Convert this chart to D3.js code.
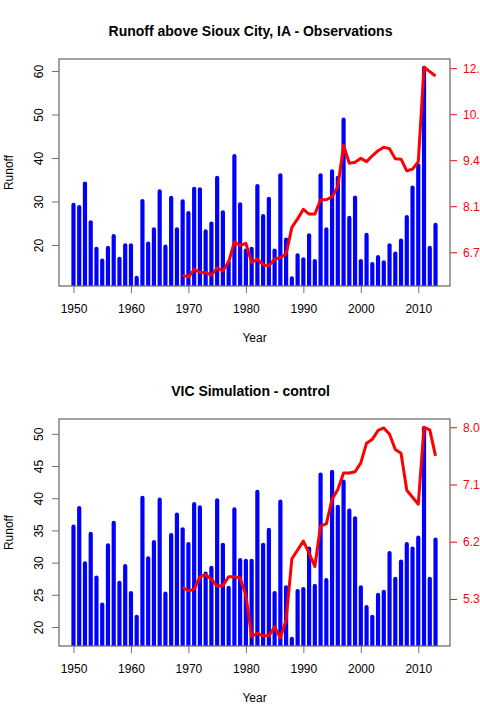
<!DOCTYPE html>
<html>
<head>
<meta charset="utf-8">
<script src="https://cdn.jsdelivr.net/npm/d3@7"></script>
<style>
  body { margin: 0; background: #fff; }
  svg { display: block; font-family: "Liberation Sans", Arial, Helvetica, sans-serif; }
</style>
</head>
<body>
<svg width="480" height="720"></svg>
<script>
// Water years shared by both panels
const YEARS = [
  1950, 1951, 1952, 1953, 1954, 1955, 1956, 1957, 1958, 1959,
  1960, 1961, 1962, 1963, 1964, 1965, 1966, 1967, 1968, 1969,
  1970, 1971, 1972, 1973, 1974, 1975, 1976, 1977, 1978, 1979,
  1980, 1981, 1982, 1983, 1984, 1985, 1986, 1987, 1988, 1989,
  1990, 1991, 1992, 1993, 1994, 1995, 1996, 1997, 1998, 1999,
  2000, 2001, 2002, 2003, 2004, 2005, 2006, 2007, 2008, 2009,
  2010, 2011, 2012, 2013,
];

// Red line only starts in 1969
const LINE_YEARS = YEARS.filter((y) => y >= 1969);

const OBS_RUNOFF = [
  29.7, 29.2, 34.6, 25.7, 19.6, 16.9, 19.8, 22.5, 17.3, 20.4,
  20.4, 12.9, 30.6, 20.8, 24.1, 32.8, 20.1, 31.3, 24.1, 30.5,
  27.8, 33.4, 33.3, 23.6, 25.4, 35.9, 28.0, 16.5, 40.9, 29.8,
  19.2, 19.6, 34.0, 27.1, 31.1, 19.2, 36.5, 21.7, 12.8, 18.1,
  17.2, 22.7, 16.8, 36.5, 24.1, 37.4, 35.9, 49.3, 26.7, 31.4,
  16.8, 22.8, 16.1, 17.7, 16.5, 20.4, 18.5, 21.5, 26.9, 33.7,
  38.8, 61.2, 19.8, 25.1,
];

const OBS_LINE = [
  6.03, 5.97, 6.20, 6.11, 6.10, 6.03, 6.24, 6.15, 6.42, 7.00, 6.90,
  6.96, 6.40, 6.50, 6.33, 6.30, 6.50, 6.54, 6.65, 7.43, 7.68,
  7.96, 7.82, 7.82, 8.24, 8.24, 8.33, 8.63, 9.83, 9.31, 9.34,
  9.46, 9.36, 9.53, 9.68, 9.78, 9.74, 9.44, 9.43, 9.09, 9.14,
  9.36, 12.13, 12.00, 11.87,
];

const SIM_RUNOFF = [
  35.9, 38.8, 30.2, 34.8, 28.0, 23.8, 33.0, 36.5, 27.2, 29.8,
  25.6, 21.9, 40.4, 31.0, 33.5, 40.1, 25.5, 34.6, 37.8, 35.5,
  33.2, 39.4, 38.9, 28.6, 29.5, 40.0, 33.1, 26.4, 38.6, 30.7,
  30.6, 30.6, 41.3, 33.1, 35.4, 25.6, 39.8, 26.5, 18.5, 25.9,
  26.2, 32.5, 26.7, 44.0, 27.6, 44.4, 39.0, 42.9, 38.4, 37.2,
  26.5, 23.4, 21.9, 25.3, 25.8, 31.8, 27.8, 30.5, 33.2, 32.5,
  34.2, 51.2, 27.8, 33.9,
];

const SIM_LINE = [
  5.48, 5.43, 5.45, 5.65, 5.68, 5.61, 5.50, 5.51, 5.65, 5.65, 5.63,
  5.36, 4.71, 4.76, 4.72, 4.72, 4.86, 4.69, 4.97, 5.93, 6.07,
  6.21, 6.02, 5.81, 6.45, 6.48, 6.87, 7.02, 7.28, 7.28, 7.30,
  7.44, 7.75, 7.81, 7.95, 7.99, 7.89, 7.65, 7.59, 7.01, 6.90,
  6.79, 8.00, 7.96, 7.55,
];

const X_TICKS = [1950, 1960, 1970, 1980, 1990, 2000, 2010];
const OBS_LEFT_TICKS = [20, 30, 40, 50, 60];
const OBS_RIGHT_TICKS = [6.7, 8.05, 9.4, 10.75, 12.1];
const OBS_RIGHT_LABELS = ['6.7', '8.1', '9.4', '10.8', '12.1'];
const SIM_LEFT_TICKS = [20, 25, 30, 35, 40, 45, 50];
const SIM_RIGHT_TICKS = [5.3, 6.2, 7.1, 8.0];
const SIM_RIGHT_LABELS = ['5.3', '6.2', '7.1', '8.0'];

const svg = d3.select('svg');

const AXIS_GREY = '#707070';

function drawPanel(opts) {
  const {top, title, runoff, line, leftDomain, rightDomain,
         leftTicks, rightTicks, rightLabels, id} = opts;
  const left = 59, right = 450, height = 227;
  const bottom = top + height;

  const x = d3.scaleLinear([1947.48, 2015.52], [left, right]);
  const yLeft = d3.scaleLinear(leftDomain, [bottom, top]);
  const yRight = d3.scaleLinear(rightDomain, [bottom, top]);

  svg.append('clipPath')
      .attr('id', id)
    .append('rect')
      .attr('x', left).attr('y', top)
      .attr('width', right - left).attr('height', height);

  const plot = svg.append('g').attr('clip-path', `url(#${id})`);

  // type="h" style bars: thick blue sticks rising from the bottom of the plot
  const barWidth = 4.2;
  plot.append('g')
    .selectAll('line')
    .data(YEARS.map((year, i) => ({year, value: runoff[i]})))
    .join('line')
      .attr('x1', (d) => x(d.year))
      .attr('x2', (d) => x(d.year))
      .attr('y1', bottom + 5)
      .attr('y2', (d) => yLeft(d.value) + barWidth / 2)
      .attr('stroke', '#0000ff')
      .attr('stroke-width', barWidth)
      .attr('stroke-linecap', 'round');

  plot.append('path')
      .datum(LINE_YEARS.map((year, i) => ({year, value: line[i]})))
      .attr('fill', 'none')
      .attr('stroke', '#ff0000')
      .attr('stroke-width', 3)
      .attr('stroke-linejoin', 'round')
      .attr('d', d3.line((d) => x(d.year), (d) => yRight(d.value)));

  // Bottom axis
  const gx = svg.append('g')
      .attr('transform', `translate(0,${bottom})`)
      .call(d3.axisBottom(x).tickValues(X_TICKS).tickFormat(d3.format('d'))
        .tickSize(7).tickPadding(11.8));
  gx.select('.domain').remove();
  gx.selectAll('line').attr('stroke', AXIS_GREY);
  gx.selectAll('text').attr('font-size', 12).attr('fill', '#000');

  // Left axis, labels rotated like R's las=0
  const gy = svg.append('g')
      .attr('transform', `translate(${left},0)`)
      .call(d3.axisLeft(yLeft).tickValues(leftTicks).tickSize(7));
  gy.select('.domain').remove();
  gy.selectAll('line').attr('stroke', AXIS_GREY);
  gy.selectAll('text')
      .attr('x', null).attr('dy', null)
      .attr('transform', 'translate(-16.3,0) rotate(-90)')
      .attr('text-anchor', 'middle')
      .attr('font-size', 12)
      .attr('fill', '#000');

  // Right axis in red
  const gr = svg.append('g')
      .attr('transform', `translate(${right},0)`)
      .call(d3.axisRight(yRight).tickValues(rightTicks)
        .tickFormat((d, i) => rightLabels[i]).tickSize(7).tickPadding(6));
  gr.select('.domain').remove();
  gr.selectAll('line').attr('stroke', '#ff0000');
  gr.selectAll('text').attr('font-size', 12).attr('fill', '#ff0000');

  // Plot box
  svg.append('rect')
      .attr('x', left).attr('y', top)
      .attr('width', right - left).attr('height', height)
      .attr('fill', 'none')
      .attr('stroke', AXIS_GREY)
      .attr('stroke-width', 1.3);

  svg.append('text')
      .attr('x', (left + right) / 2 - 4)
      .attr('y', top - 23.3)
      .attr('text-anchor', 'middle')
      .attr('font-size', 14)
      .attr('font-weight', 'bold')
      .text(title);

  svg.append('text')
      .attr('x', (left + right) / 2)
      .attr('y', bottom + 56)
      .attr('text-anchor', 'middle')
      .attr('font-size', 12)
      .text('Year');

  svg.append('text')
      .attr('transform', `translate(13,${(top + bottom) / 2}) rotate(-90)`)
      .attr('text-anchor', 'middle')
      .attr('font-size', 12)
      .text('Runoff');
}

drawPanel({
  id: 'clip-obs',
  top: 59,
  title: 'Runoff above Sioux City, IA - Observations',
  runoff: OBS_RUNOFF,
  line: OBS_LINE,
  leftDomain: [10.57, 62.76],
  rightDomain: [5.71, 12.37],
  leftTicks: OBS_LEFT_TICKS,
  rightTicks: OBS_RIGHT_TICKS,
  rightLabels: OBS_RIGHT_LABELS,
});

drawPanel({
  id: 'clip-sim',
  top: 419,
  title: 'VIC Simulation - control',
  runoff: SIM_RUNOFF,
  line: SIM_LINE,
  leftDomain: [17.05, 52.3],
  rightDomain: [4.56, 8.13],
  leftTicks: SIM_LEFT_TICKS,
  rightTicks: SIM_RIGHT_TICKS,
  rightLabels: SIM_RIGHT_LABELS,
});
</script>
</body>
</html>
